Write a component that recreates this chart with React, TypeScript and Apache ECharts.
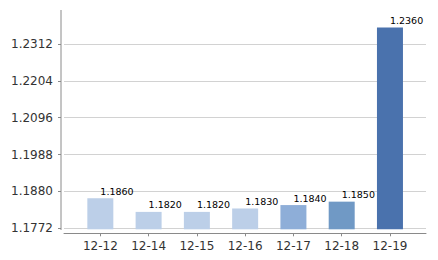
import React, { useEffect, useRef } from "react";
import * as echarts from "echarts";

const categories = ["12-12", "12-14", "12-15", "12-16", "12-17", "12-18", "12-19"];
const values = [1.186, 1.182, 1.182, 1.183, 1.184, 1.185, 1.236];
const barColors = ["#BCCFE8", "#BCCFE8", "#BCCFE8", "#BCCFE8", "#8EAED8", "#7099C5", "#4A72AD"];
const yTickMin = 1.1772;
const yTickMax = 1.2312;
const yTickStep = 0.0108;

export default function App() {
  const ref = useRef<HTMLDivElement>(null);
  useEffect(() => {
    document.body.style.margin = "0";
    const chart = echarts.init(ref.current!, null, { renderer: "svg" });
    const axisColor = "#8a8a8a";
    chart.setOption({
      animation: false,
      grid: [
        { left: 64, right: 12, top: 44, bottom: 31.7 },
        { left: 76.2, right: 23.9, top: 9.84, bottom: 30.7 },
      ],
      xAxis: [
        {
          gridIndex: 0,
          type: "category",
          data: categories,
          offset: 5,
          axisLine: { show: true, lineStyle: { color: axisColor, width: 1 } },
          axisTick: { show: false },
          axisLabel: { show: false },
        },
        {
          gridIndex: 1,
          type: "category",
          data: categories,
          offset: 4,
          axisLine: { show: false },
          axisTick: { show: true, alignWithLabel: true, length: 3, lineStyle: { color: axisColor } },
          axisLabel: {
            margin: 7,
            color: "#333",
            fontFamily: "DejaVu Sans",
            fontSize: 12,
          },
        },
      ],
      yAxis: [
        {
          gridIndex: 0,
          type: "value",
          min: yTickMin,
          max: yTickMax,
          interval: yTickStep,
          offset: 3,
          axisLine: { show: false },
          axisTick: { show: true, length: 3, lineStyle: { color: axisColor } },
          axisLabel: {
            margin: 8,
            color: "#333",
            fontFamily: "DejaVu Sans",
            fontSize: 12,
            formatter: (v: number) => v.toFixed(4),
          },
          splitLine: { show: true, lineStyle: { color: "#d2d2d2", width: 1 } },
        },
        {
          gridIndex: 1,
          type: "value",
          min: 1.1769,
          max: 1.2412,
          show: false,
          splitLine: { show: false },
        },
      ],
      graphic: [
        {
          type: "line",
          shape: { x1: 61, y1: 10, x2: 61, y2: 230 },
          style: { stroke: axisColor, lineWidth: 1 },
        },
      ],
      series: [
        {
          type: "bar",
          xAxisIndex: 1,
          yAxisIndex: 1,
          barWidth: 26,
          data: values.map((v, i) => ({ value: v, itemStyle: { color: barColors[i] } })),
          label: {
            show: true,
            position: "top",
            align: "left",
            distance: 2,
            color: "#000",
            fontFamily: "DejaVu Sans",
            fontSize: 9.5,
            formatter: (p: any) => Number(p.value).toFixed(4),
          },
        },
      ],
    });
    return () => chart.dispose();
  }, []);
  return <div ref={ref} style={{ width: 438, height: 260 }} />;
}
